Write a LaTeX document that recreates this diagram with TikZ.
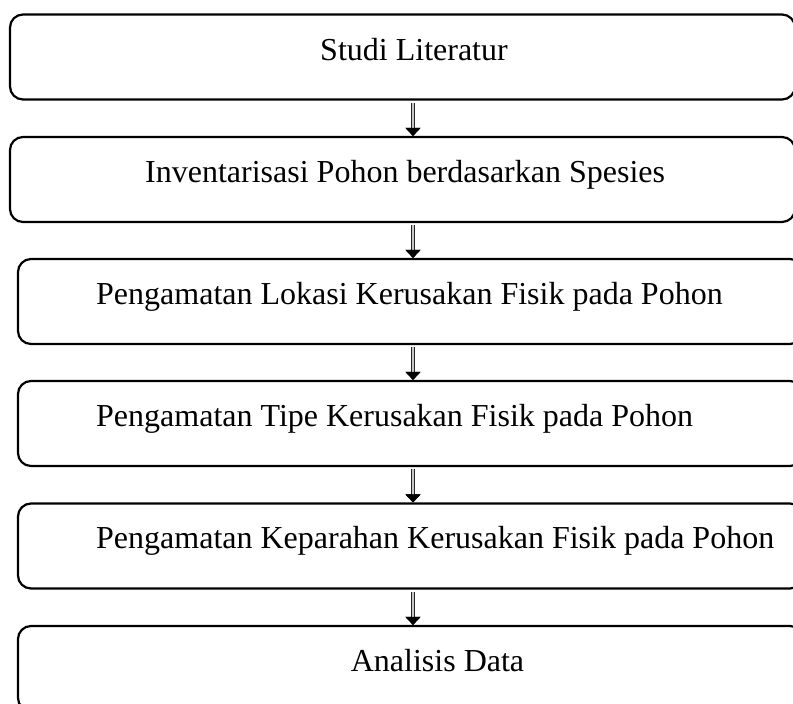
\documentclass[tikz,border=0pt]{standalone}
\usepackage{fontspec}
\setmainfont{Liberation Serif}
\usetikzlibrary{arrows.meta}
\tikzstyle{stepbox}=[rectangle, draw, rounded corners=13pt, line width=2.2pt, minimum width=785pt, minimum height=85pt, inner sep=0pt]
\tikzstyle{steptext}=[inner sep=0pt, font=\fontsize{32}{38}\selectfont]
\tikzstyle{flowarrow}=[line width=2.4pt, draw=gray!45, -{Triangle[length=8pt, width=15pt, line width=0.4pt, black]},
    preaction={draw=black!85, line width=4.8pt, -{Triangle[length=8pt, width=15pt, line width=0.4pt, black]}}]

\begin{document}
\begin{tikzpicture}[x=1pt, y=-1pt]
    \path[use as bounding box] (0,0) rectangle (793,704);
    \clip (0,0) rectangle (793,704);
    \coordinate (ax) at (413,0);
    \node[stepbox] (s1) at (402.5,57) {};
    \node[stepbox] (s2) at (402.5,179.5) {};
    \node[stepbox] (s3) at (410.5,301.5) {};
    \node[stepbox] (s4) at (410.5,423.5) {};
    \node[stepbox] (s5) at (410.5,546) {};
    \node[stepbox] (s6) at (410.5,668.5) {};
    \node[steptext, anchor=base] (t1) at (414,60) {Studi Literatur};
    \node[steptext, anchor=base west] (t2) at (145,182) {Inventarisasi Pohon berdasarkan Spesies};
    \node[steptext, anchor=base west] (t3) at (96,304) {Pengamatan Lokasi Kerusakan Fisik pada Pohon};
    \node[steptext, anchor=base west] (t4) at (96,426) {Pengamatan Tipe Kerusakan Fisik pada Pohon};
    \node[steptext, anchor=base west] (t5) at (96,548.5) {Pengamatan Keparahan Kerusakan Fisik pada Pohon};
    \node[steptext, anchor=base] (t6) at (437.5,671) {Analisis Data};
    \draw[flowarrow] ([yshift=-2pt]s1.south -| ax) -- (s2.north -| ax);
    \draw[flowarrow] ([yshift=-2pt]s2.south -| ax) -- (s3.north -| ax);
    \draw[flowarrow] ([yshift=-2pt]s3.south -| ax) -- (s4.north -| ax);
    \draw[flowarrow] ([yshift=-2pt]s4.south -| ax) -- (s5.north -| ax);
    \draw[flowarrow] ([yshift=-2pt]s5.south -| ax) -- (s6.north -| ax);
\end{tikzpicture}
\end{document}
